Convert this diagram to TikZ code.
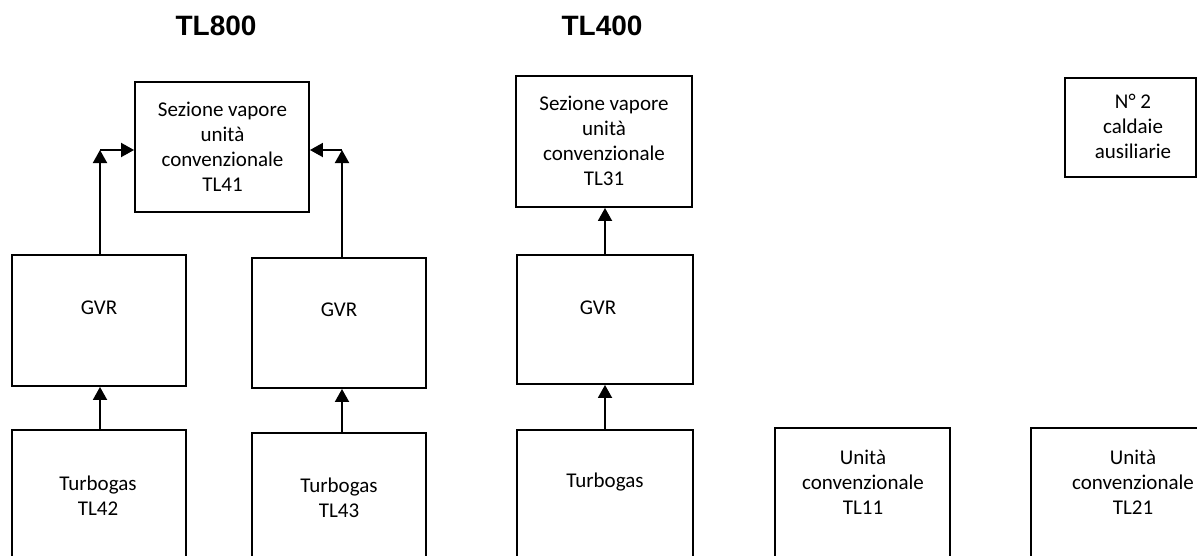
\documentclass[tikz,border=0pt]{standalone}
\usepackage{fontspec}
\setmainfont{Carlito}
\newfontfamily\titlefont{Liberation Sans}
\usetikzlibrary{arrows.meta}
\begin{document}
\begin{tikzpicture}[x=1pt,y=-1pt,
  box/.style={draw, line width=1.9pt, inner sep=0pt},
  lbl/.style={font=\fontsize{21}{25}\selectfont, align=center, anchor=base, inner sep=0pt},
  ttl/.style={font=\titlefont\bfseries\fontsize{28}{32}\selectfont, anchor=base, inner sep=0pt},
  arr/.style={line width=1.9pt, -{Triangle[length=13pt,width=14pt]}}]
\useasboundingbox (0,0) rectangle (1197,555);
\clip (0,0) rectangle (1197,555);
% titles
\node[ttl] (t800) at (216,35) {TL800};
\node[ttl] (t400) at (602,35) {TL400};
% boxes
\node[box, minimum width=174pt, minimum height=130pt] (sez41) at (222,147) {};
\node[box, minimum width=174pt, minimum height=131pt] (gvr1) at (99,320.5) {};
\node[box, minimum width=174pt, minimum height=175pt] (tg42) at (99,517.5) {};
\node[box, minimum width=174pt, minimum height=130pt] (gvr2) at (339,323) {};
\node[box, minimum width=174pt, minimum height=175pt] (tg43) at (339,520.5) {};
\node[box, minimum width=176pt, minimum height=131pt] (sez31) at (604,141.5) {};
\node[box, minimum width=176pt, minimum height=129pt] (gvr3) at (605,319.5) {};
\node[box, minimum width=176pt, minimum height=175pt] (tg3) at (605,517.5) {};
\node[box, minimum width=175pt, minimum height=175pt] (u11) at (862.5,515.5) {};
\node[box, minimum width=209pt, minimum height=175pt] (u21) at (1135.5,515.5) {};
\node[box, minimum width=131pt, minimum height=99pt] (aux) at (1130.5,127.5) {};
% labels (anchor=base is the baseline of the last line)
\node[lbl] (l41) at (222.5,191.7) {Sezione vapore\\unità\\convenzionale\\TL41};
\node[lbl] (l31) at (604,185.5) {Sezione vapore\\unità\\convenzionale\\TL31};
\node[lbl] (laux) at (1133,158) {N° 2\\caldaie\\ausiliarie};
\node[lbl] (lg1) at (99,314) {GVR};
\node[lbl] (lg2) at (339,316) {GVR};
\node[lbl] (lg3) at (598,314) {GVR};
\node[lbl] (l42) at (98,515) {Turbogas\\TL42};
\node[lbl] (l43) at (339,517) {Turbogas\\TL43};
\node[lbl] (ltg) at (605,487.5) {Turbogas};
\node[lbl] (l11) at (863,514) {Unità\\convenzionale\\TL11};
\node[lbl] (l21) at (1133,514) {Unità\\convenzionale\\TL21};
% connectors
\coordinate (c1) at (100,150);
\coordinate (c2) at (342,150);
\coordinate (c3) at (605,150);
\draw[arr] (gvr1.north -| c1) -- (c1);
\draw[arr] (c1) -- (sez41.west |- c1);
\draw[arr] (gvr2.north -| c2) -- (c2);
\draw[arr] (c2) -- (sez41.east |- c2);
\draw[arr] (tg42.north -| c1) -- (gvr1.south -| c1);
\draw[arr] (tg43.north -| c2) -- (gvr2.south -| c2);
\draw[arr] (gvr3.north -| c3) -- (sez31.south -| c3);
\draw[arr] (tg3.north -| c3) -- (gvr3.south -| c3);
\end{tikzpicture}
\end{document}
